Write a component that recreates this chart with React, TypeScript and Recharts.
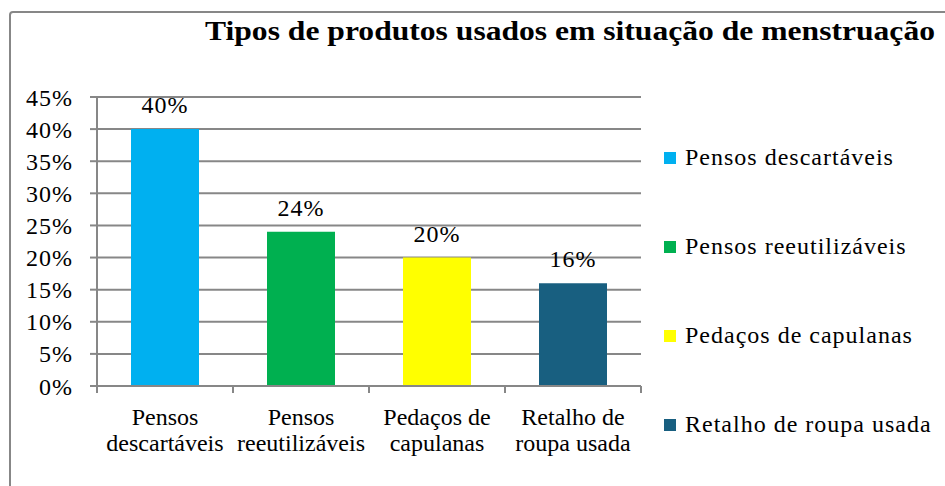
import { Bar, BarChart, CartesianGrid, Cell, LabelList, Legend, XAxis, YAxis } from "recharts"

const title = "Tipos de produtos usados em situação de menstruação"
const categories = ["Pensos descartáveis", "Pensos reeutilizáveis", "Pedaços de capulanas", "Retalho de roupa usada"]
// how the category labels wrap under the axis
const tickLines = [
  ["Pensos", "descartáveis"],
  ["Pensos", "reeutilizáveis"],
  ["Pedaços de", "capulanas"],
  ["Retalho de", "roupa usada"],
]
const shares = [40, 24, 20, 16]
const colors = ["#00B0F0", "#00B050", "#FFFF00", "#185F80"]
const yTicks = [0, 5, 10, 15, 20, 25, 30, 35, 40, 45]

const font = "'Liberation Serif', 'Times New Roman', serif"
const grey = "#878787"

const data = categories.map((name, i) => ({ name, value: shares[i] }))

// excel style: tick marks sit between the categories, labels in the middle
function CategoryTick(props: any) {
  const { x, y, index, width, visibleTicksCount } = props
  const lines = tickLines[index] || []
  const band = width / visibleTicksCount
  const left = x - band / 2
  return (
    <g>
      <line x1={left} x2={left} y1={y} y2={y + 7} stroke={grey} strokeWidth={2} />
      {index === visibleTicksCount - 1 && (
        <line x1={x + band / 2} x2={x + band / 2} y1={y} y2={y + 7} stroke={grey} strokeWidth={2} />
      )}
      <text textAnchor="middle" fontFamily={font} fontSize={24} fill="#000">
        {lines.map((l, i) => (
          <tspan key={i} x={x} y={y + 39 + i * 26}>
            {l}
          </tspan>
        ))}
      </text>
    </g>
  )
}

function SideLegend() {
  return (
    <div style={{ fontFamily: font, fontSize: 24, letterSpacing: 1, color: "#000" }}>
      {categories.map((c, i) => (
        <div key={c} style={{ height: 89, display: "flex", alignItems: "center", whiteSpace: "nowrap" }}>
          <span style={{ width: 12, height: 12, background: colors[i], marginRight: 9, display: "inline-block" }} />
          {c}
        </div>
      ))}
    </div>
  )
}

export default function App() {
  return (
    <div style={{ position: "absolute", left: 0, top: 0, width: 945, height: 486, overflow: "hidden", background: "#fff" }}>
      <div
        style={{
          position: "absolute",
          left: 9,
          top: 11,
          width: 980,
          height: 520,
          border: `2px solid ${grey}`,
          borderRadius: 4,
        }}
      />
      <svg width={945} height={60} style={{ position: "absolute", left: 0, top: 0 }}>
        <text
          x={205}
          y={40}
          textLength={730}
          lengthAdjust="spacingAndGlyphs"
          fontFamily={font}
          fontWeight="bold"
          fontSize={27}
          fill="#000"
        >
          {title}
        </text>
      </svg>
      <div style={{ position: "absolute", left: 0, top: 0 }}>
        <BarChart
          width={945}
          height={486}
          data={data}
          margin={{ top: 97, right: 304, bottom: 40, left: 0 }}
          barCategoryGap="25%"
        >
          <CartesianGrid vertical={false} stroke={grey} strokeWidth={2} />
          <XAxis
            dataKey="name"
            tick={<CategoryTick />}
            tickLine={false}
            tickSize={0}
            tickMargin={0}
            axisLine={{ stroke: grey, strokeWidth: 2 }}
            height={60}
            interval={0}
          />
          <YAxis
            width={97}
            domain={[0, 45]}
            ticks={yTicks}
            tickFormatter={(v: number) => `${v}%`}
            tick={{ fontFamily: font, fontSize: 24, letterSpacing: 1, fill: "#000" }}
            tickLine={{ stroke: grey, strokeWidth: 2 }}
            tickSize={7}
            tickMargin={17}
            axisLine={{ stroke: grey, strokeWidth: 2 }}
          />
          <Legend
            layout="vertical"
            align="center"
            verticalAlign="middle"
            content={<SideLegend />}
            wrapperStyle={{ left: 664, top: 113, width: 280 }}
          />
          <Bar dataKey="value" isAnimationActive={false}>
            {data.map((d, i) => (
              <Cell key={d.name} fill={colors[i]} />
            ))}
            <LabelList
              dataKey="value"
              position="top"
              offset={16}
              formatter={(v: any) => `${v}%`}
              style={{ fontFamily: font, fontSize: 24, letterSpacing: 1, fill: "#000" }}
            />
          </Bar>
        </BarChart>
      </div>
    </div>
  )
}
